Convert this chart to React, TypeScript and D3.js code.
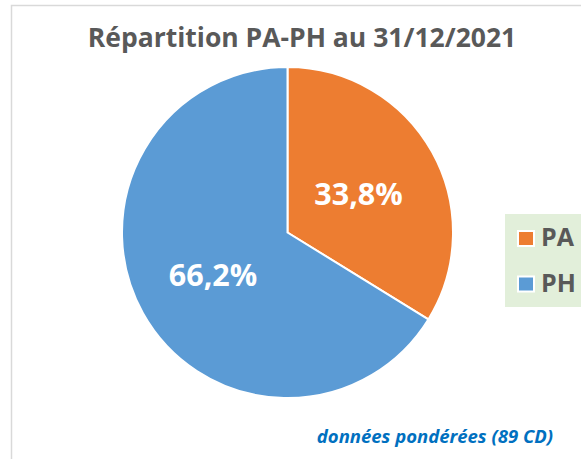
import React from "react";
import * as d3 from "d3";

const categories = ["PA", "PH"];
const values = [33.8, 66.2];
const colors = ["#ED7D31", "#5B9BD5"];
const title = "Répartition PA-PH au 31/12/2021";
const footnote = "données pondérées (89 CD)";

const W = 581;
const H = 459;
const FONT = "'Open Sans', 'Noto Sans', sans-serif";

export default function App() {
  const cx = 287.5;
  const cy = 232.5;
  const r = 165.5;
  const pie = d3.pie<number>().sort(null).value((d) => d)(values);
  const arc = d3.arc<d3.PieArcDatum<number>>().innerRadius(0).outerRadius(r);
  const fmt = (v: number) => v.toFixed(1).replace(".", ",") + "%";
  const labelPos = [
    { x: 358.5, y: 205 },
    { x: 213, y: 286 },
  ];
  return (
    <svg
      width={W}
      height={H}
      style={{ position: "absolute", left: 0, top: 0, background: "#fff" }}
      fontFamily={FONT}
    >
      <rect x={0} y={0} width={W} height={H} fill="#fff" />
      <path d={`M11.5,${H} V5.5 H${W}`} fill="none" stroke="#D9D9D9" strokeWidth={1.5} />
      <text x={302} y={47} textAnchor="middle" fontSize={26.5} fontWeight="bold" fill="#595959">
        {title}
      </text>
      <g transform={`translate(${cx},${cy})`}>
        {pie.map((p, i) => (
          <path key={i} d={arc(p) || ""} fill={colors[i]} stroke="#fff" strokeWidth={2} />
        ))}
      </g>
      {pie.map((p, i) => (
        <text
          key={"l" + i}
          x={labelPos[i].x}
          y={labelPos[i].y}
          textAnchor="middle"
          fontSize={30.5}
          fontWeight="bold"
          fill="#fff"
        >
          {fmt(p.data)}
        </text>
      ))}
      <rect x={505} y={214} width={W - 505} height={93} fill="#E2EFDA" />
      {categories.map((c, i) => (
        <g key={c}>
          <rect
            x={518}
            y={231 + i * 45.5}
            width={16}
            height={15}
            fill={colors[i]}
            stroke="#fff"
            strokeWidth={2}
          />
          <text x={541} y={246 + i * 46} fontSize={25} fontWeight="bold" fill="#595959">
            {c}
          </text>
        </g>
      ))}
      <text
        x={553}
        y={443}
        textAnchor="end"
        fontSize={18.5}
        fontWeight="bold"
        fontStyle="italic"
        fill="#0070C0"
      >
        {footnote}
      </text>
    </svg>
  );
}
